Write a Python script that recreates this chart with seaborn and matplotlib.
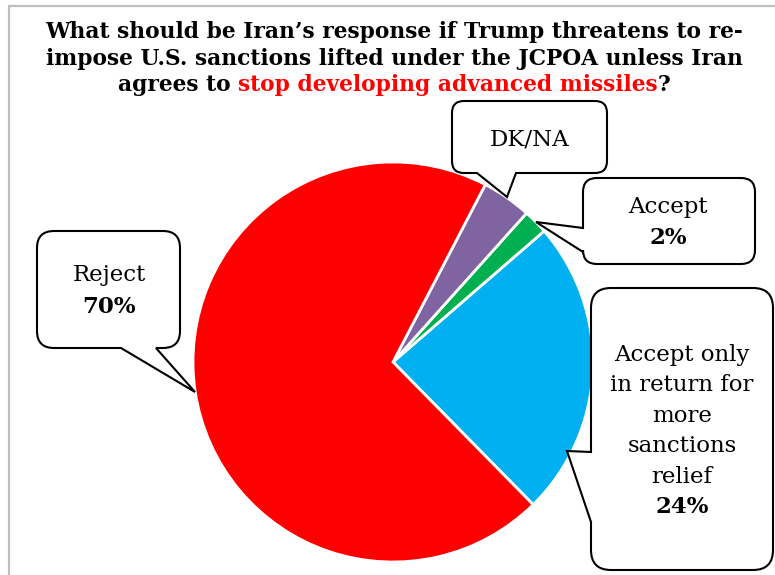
import matplotlib
matplotlib.use("Agg")
import matplotlib.pyplot as plt
import seaborn as sns
from matplotlib.path import Path
from matplotlib.patches import PathPatch
from matplotlib.lines import Line2D
from matplotlib import font_manager

# Survey answers, in the order the slices are laid out (counter-clockwise)
categories = ["Accept only in return for more sanctions relief", "Accept", "DK/NA", "Reject"]
shares = [24, 2, 4, 70]
slice_colors = ["#00B0F0", "#00B050", "#8064A2", "#FF0000"]

title_lines = [
    "What should be Iran\u2019s response if Trump threatens to re-",
    "impose U.S. sanctions lifted under the JCPOA unless Iran",
]
title_last = ["agrees to ", "stop developing advanced missiles", "?"]
title_last_colors = ["black", "#FF0000", "black"]

W, H = 775, 575
sns.set_theme(style="white")
plt.rcParams["font.family"] = ["DejaVu Serif", "DejaVu Sans"]

names = {f.name for f in font_manager.fontManager.ttflist}
title_family = ["DejaVu Serif Condensed"] if "DejaVu Serif Condensed" in names else ["DejaVu Serif"]

fig = plt.figure(figsize=(W / 100, H / 100), dpi=100)
ax = fig.add_axes([0, 0, 1, 1])


def Y(y):
    return H - y


# Pie
ax.pie(shares, colors=slice_colors, startangle=-45.5, counterclock=True,
       center=(393, Y(362)), radius=200,
       wedgeprops=dict(edgecolor="white", linewidth=2))
ax.set_xlim(0, W)
ax.set_ylim(0, H)
ax.set_aspect("equal")
ax.axis("off")

# Frame lines
frame_col = "#BFBFBF"
ax.add_line(Line2D([9, 9], [Y(6), Y(575)], color=frame_col, lw=1.6, zorder=1))
ax.add_line(Line2D([9, 775], [Y(6), Y(6)], color=frame_col, lw=1.6, zorder=1))


def callout(x0, y0, x1, y1, r, side, base, tip):
    verts, codes = [], []

    def mv(p):
        verts.append(p); codes.append(Path.MOVETO)

    def ln(p):
        verts.append(p); codes.append(Path.LINETO)

    def cv(c, p):
        verts.extend([c, p]); codes.extend([Path.CURVE3, Path.CURVE3])

    mv((x0 + r, y0))
    ln((x1 - r, y0))
    cv((x1, y0), (x1, y0 + r))
    ln((x1, y1 - r))
    cv((x1, y1), (x1 - r, y1))
    if side == "bottom":
        lo, hi = base
        ln((hi, y1)); ln(tip); ln((lo, y1))
    ln((x0 + r, y1))
    cv((x0, y1), (x0, y1 - r))
    if side == "left":
        lo, hi = base
        ln((x0, hi)); ln(tip); ln((x0, lo))
    ln((x0, y0 + r))
    cv((x0, y0), (x0 + r, y0))
    verts.append((x0 + r, y0)); codes.append(Path.CLOSEPOLY)
    verts = [(vx, Y(vy)) for vx, vy in verts]
    ax.add_patch(PathPatch(Path(verts, codes), facecolor="white",
                           edgecolor="black", lw=1.5, zorder=5,
                           joinstyle="miter"))


callout(452, 101, 607, 173, 12, "bottom", (477, 516), (507, 197))
callout(583, 178, 755, 264, 14, "left", (228, 252), (536, 222))
callout(37, 231, 180, 348, 17, "bottom", (121, 156), (195, 392))
callout(591, 288, 773, 570, 20, "left", (452, 522), (567, 451))

fs = 16.5
tk = dict(ha="center", va="center", fontsize=fs, color="black", zorder=6)
ax.text(530, Y(139), categories[2], **tk)
ax.text(668, Y(207), categories[1], **tk)
ax.text(668, Y(238), f"{shares[1]}%", fontweight="bold", **tk)
ax.text(109, Y(275), categories[3], **tk)
ax.text(109, Y(307), f"{shares[3]}%", fontweight="bold", **tk)
wrapped = ["Accept only", "in return for", "more", "sanctions", "relief"]
for i, line in enumerate(wrapped):
    ax.text(682, Y(355 + 30.4 * i), line, **tk)
ax.text(682, Y(507), f"{shares[0]}%", fontweight="bold", **tk)

# Title
renderer = fig.canvas.get_renderer()


def width_of(s, size):
    t = ax.text(0, 0, s, fontsize=size, fontweight="bold", family=title_family)
    w = t.get_window_extent(renderer).width
    t.remove()
    return w


# size the title so its first line spans the frame width
tfs = 15.0 * 702 / width_of(title_lines[0], 15.0)
cx = 394
baselines = [38, 65, 91]
for i, line in enumerate(title_lines):
    ax.text(cx, Y(baselines[i]), line, ha="center", va="baseline",
            fontsize=tfs, fontweight="bold", color="black", family=title_family)

full = "".join(title_last)
total = width_of(full, tfs)
x = cx - total / 2
for k, (part, col) in enumerate(zip(title_last, title_last_colors)):
    ax.text(x, Y(baselines[2]), part, ha="left", va="baseline", fontsize=tfs,
            fontweight="bold", color=col, family=title_family)
    nxt = "".join(title_last[: k + 1])
    x = cx - total / 2 + width_of(nxt + "x", tfs) - width_of("x", tfs)

fig.savefig("out.png", dpi=100)
